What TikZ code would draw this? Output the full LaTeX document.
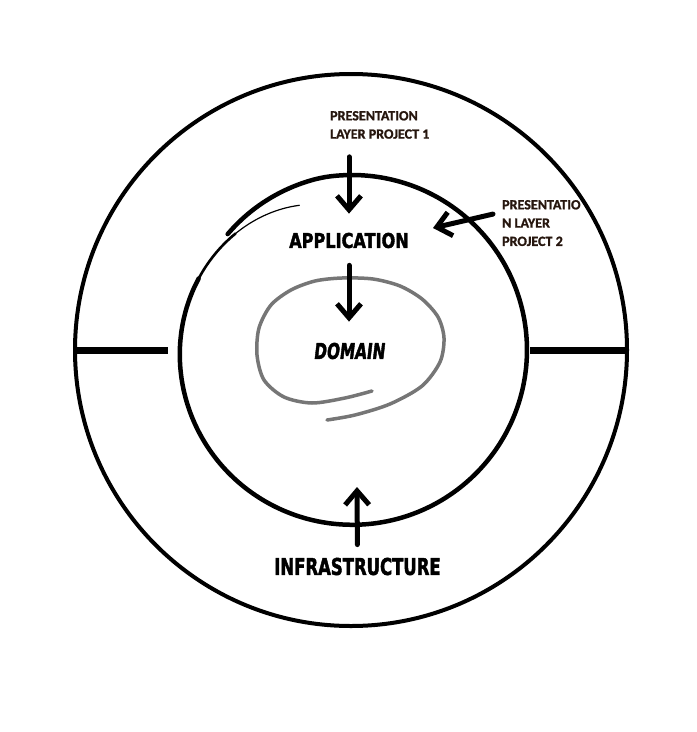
\documentclass[tikz,border=0pt]{standalone}
\usepackage{fontspec}
\usetikzlibrary{arrows.meta}
\newfontfamily\notefont{Carlito}[BoldFeatures={FakeBold=1.2}]
\newfontfamily\brushfont{DejaVu Sans Bold}[FakeStretch=0.71, FakeBold=1.8]
\newfontfamily\brushwide{DejaVu Sans Bold}[FakeStretch=0.79, FakeBold=1.8]
\newfontfamily\brushslant{DejaVu Sans Bold}[FakeStretch=0.7, FakeSlant=0.12, FakeBold=1.8]
\definecolor{inkbrown}{RGB}{38,22,14}
\definecolor{coregray}{RGB}{118,118,118}

\begin{document}
\begin{tikzpicture}[x=0.5mm, y=-0.5mm,
    ring/.style={draw=black, line width=2mm},
    bar/.style={draw=black, line width=3.5mm},
    sketch/.style={draw=black, line width=2.25mm, line cap=round},
    core/.style={draw=coregray, line width=1.75mm, line cap=round},
    arr/.style={draw=black, line width=2.5mm, line cap=round, line join=round,
                -{Straight Barb[length=7mm, width=12mm]}},
    note/.style={font=\notefont\bfseries\fontsize{20}{26}\selectfont,
                 text=inkbrown, align=left, inner sep=0pt, anchor=north west},
    layer/.style={inner sep=0pt}]
  \fill[white] (0,0) rectangle (697,732);
  \useasboundingbox (0,0) rectangle (697,732);
  % outer ring, split in two
  \draw[ring] (351,350) circle (276);
  \draw[bar] (75,350) -- (168,350);
  \draw[bar] (530,350) -- (627,350);
  % application ring, drawn as a loose spiral
  \draw[black, line width=0.6mm, line cap=round] plot[smooth, domain=110:140, samples=12]
    ({352+(175-21*exp(-(\x-110)/35))*cos(\x)}, {350-(175-21*exp(-(\x-110)/35))*sin(\x)});
  \draw[black, line width=1.3mm, line cap=round] plot[smooth, domain=135:160, samples=12]
    ({352+(175-21*exp(-(\x-110)/35))*cos(\x)}, {350-(175-21*exp(-(\x-110)/35))*sin(\x)});
  \draw[sketch] plot[smooth, domain=155:497, samples=90]
    ({352+(175-21*exp(-(\x-110)/35)-5*max(0,(\x-460)/37))*cos(\x)},
     {350-(175-21*exp(-(\x-110)/35)-5*max(0,(\x-460)/37))*sin(\x)});
  % domain loop
  \draw[core] plot[smooth] coordinates {(372,391) (345,398) (312,403) (284,397)
    (264,380) (257,355) (259,328) (271,305) (291,290) (315,281) (342,278)
    (373,279) (400,286) (422,299) (438,317) (444,338) (440,362) (422,386)
    (390,404) (355,415) (327,420)};

  \node[note] (pres1) at (330,111) {PRESENTATION\\LAYER PROJECT 1};
  \node[note] (pres2) at (502,200) {PRESENTATIO\\N LAYER\\PROJECT 2};
  \node[layer, font=\brushwide\fontsize{29}{30}\selectfont] (app) at (349,240.5) {APPLICATION};
  \node[layer, font=\brushslant\fontsize{31}{32}\selectfont] (domain) at (349,351) {DOMAIN};
  \node[layer, font=\brushfont\fontsize{33}{34}\selectfont] (infra) at (357.5,566.5) {INFRASTRUCTURE};
  \coordinate (gate) at (357,487);
  \coordinate (rim) at (433,228);

  \draw[arr, shorten <=9mm, shorten >=9.5mm] (app.north |- pres1.south) -- (app.north);
  \draw[arr, shorten <=8.5mm, shorten >=10.5mm] (app.south) -- (domain.north);
  \draw[arr, shorten <=6.5mm] (infra.north) -- (gate);
  \draw[arr] ([xshift=-4.5mm, yshift=4.5mm]pres2.west) -- (rim);
\end{tikzpicture}
\end{document}
